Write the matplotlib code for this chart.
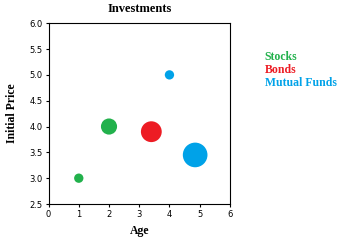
import numpy as np
import matplotlib
matplotlib.use('Agg')
import matplotlib.pyplot as plt

# series data: age, initial price, bubble size
series = ['Stocks', 'Bonds', 'Mutual Funds']
colors = ['#22B14C', '#ED1C24', '#00A2E8']

stocks_age = [1, 2]
stocks_price = [3.0, 4.0]
stocks_size = [1, 3]

bonds_age = [3.4]
bonds_price = [3.9]
bonds_size = [5]

funds_age = [4, 4.85]
funds_price = [5.0, 3.45]
funds_size = [1, 7]

ages = [stocks_age, bonds_age, funds_age]
prices = [stocks_price, bonds_price, funds_price]
sizes = [stocks_size, bonds_size, funds_size]

fig = plt.figure(figsize=(3.57, 2.42), dpi=100)
ax = fig.add_axes([0.136, 0.157, 0.508, 0.747])

for x, y, s, c in zip(ages, prices, sizes, colors):
    ax.scatter(x, y, s=np.array(s) * 45, color=c, edgecolors='none', zorder=3)

ax.set_xlim(0, 6)
ax.set_ylim(2.5, 6.0)
ax.set_xticks(np.arange(0, 7, 1))
ax.set_yticks(np.arange(2.5, 6.01, 0.5))
ax.set_yticklabels(['%.1f' % v for v in np.arange(2.5, 6.01, 0.5)])
ax.tick_params(labelsize=6, length=2.5, width=0.8, pad=2)
for sp in ax.spines.values():
    sp.set_linewidth(0.8)

serif = 'Liberation Serif'
ax.set_title('Investments', fontsize=9, fontweight='bold', family=serif, pad=8)
ax.set_xlabel('Age', fontsize=8.5, fontweight='bold', family=serif, labelpad=4)
ax.set_ylabel('Initial Price', fontsize=8.5, fontweight='bold', family=serif, labelpad=8)

# legend as colored text
for i, (name, c) in enumerate(zip(series, colors)):
    fig.text(0.742, 0.765 - i * 0.054, name, color=c, fontsize=8.5,
             fontweight='bold', family=serif, va='center', ha='left')

fig.savefig('out.png', dpi=100)
